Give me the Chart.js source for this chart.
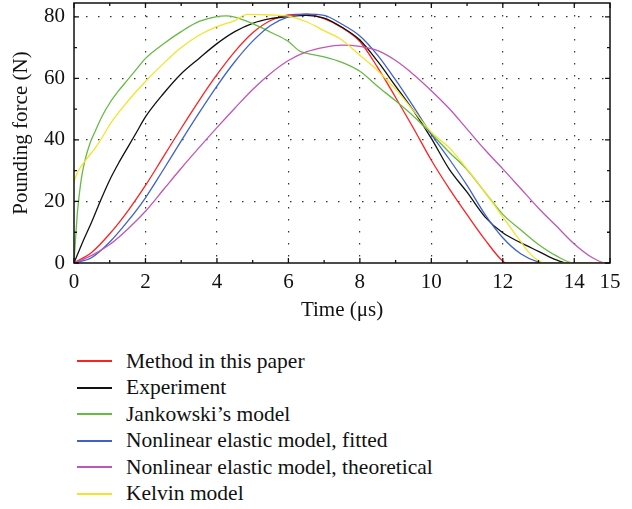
<!DOCTYPE html>
<html>
<head>
<meta charset="utf-8">
<script src="https://cdn.jsdelivr.net/npm/chart.js@4.4.1/dist/chart.umd.min.js"></script>
<style>
  body { margin: 0; background: #fff; }
  #wrap { position: relative; width: 632px; height: 509px; }
  #legend { position: absolute; left: 77px; top: 348px; font: 21.5px 'Liberation Serif', serif; color: #111; }
  .row { height: 26.5px; display: flex; align-items: center; white-space: nowrap; }
  .sw { display: inline-block; width: 35px; height: 1.6px; margin-right: 14px; }
</style>
</head>
<body>
<div id="wrap">
  <canvas id="myChart" width="632" height="330"></canvas>
  <div id="legend"></div>
</div>
<script>
const seriesNames = [
  'Method in this paper',
  'Experiment',
  'Jankowski\u2019s model',
  'Nonlinear elastic model, fitted',
  'Nonlinear elastic model, theoretical',
  'Kelvin model'
];
const seriesColors = ['#ff2020', '#111111', '#66bb44', '#3f62c8', '#c056b8', '#f2e42a'];

// time (us) and pounding force (N)
const methodT = [0, 0.5, 1, 1.5, 2, 2.5, 3, 3.5, 4, 4.5, 5, 5.5, 6, 6.5, 7, 7.5, 8, 8.5, 9, 9.5, 10, 10.5, 11, 11.5, 12, 12.1, 15];
const methodF = [0, 3.5, 9.5, 16.8, 25.2, 34.5, 43.8, 52.8, 61.2, 68.7, 74.8, 78.8, 80.6, 80.9, 79.4, 76.5, 72, 63.5, 53.8, 43.8, 33.4, 24.2, 15.7, 7.6, 0.6, 0, 0];

const expT = [0, 0.25, 0.5, 0.75, 1, 1.25, 1.5, 1.75, 2, 2.5, 3, 3.5, 4, 4.5, 5, 5.5, 6, 6.5, 7, 7.5, 8, 8.5, 9, 9.5, 10, 10.5, 11, 11.5, 12, 12.5, 13, 13.5, 13.8, 15];
const expF = [0, 7, 13.5, 20.5, 27, 32.5, 37.5, 42.5, 47.5, 55, 61.5, 66.5, 71.3, 75.2, 77.9, 79.4, 80.1, 80.5, 79.6, 76.6, 72.5, 65.5, 57.5, 49.5, 40.5, 30.5, 23, 15, 9.8, 6.6, 3.8, 1, 0, 0];

const jankT = [0, 0.05, 0.1, 0.2, 0.3, 0.45, 0.6, 0.8, 1, 1.25, 1.5, 1.75, 2, 2.5, 3, 3.5, 4, 4.25, 4.5, 5, 5.5, 6, 6.3, 6.5, 7, 7.5, 8, 8.5, 9, 9.5, 10, 10.5, 11, 11.5, 12, 12.5, 13, 13.5, 14, 15];
const jankF = [0, 9, 17, 27, 33, 39, 43, 48, 52, 56, 59.5, 63, 66.5, 71.2, 75.2, 78.5, 80.1, 80.3, 79.9, 77.8, 75, 72, 69, 68.2, 67, 65.2, 62.3, 57.4, 52.7, 47.7, 42, 36, 30.3, 23, 15.8, 10.8, 6, 2.3, 0, 0];

const fittedT = [0, 0.5, 1, 1.5, 2, 2.5, 3, 3.5, 4, 4.5, 5, 5.5, 6, 6.5, 7, 7.5, 8, 8.5, 9, 9.5, 10, 10.5, 11, 11.5, 12, 12.5, 13, 13.2, 15];
const fittedF = [0, 1.8, 6.8, 13.5, 21.2, 30.3, 39.7, 48.8, 57.5, 65.4, 72.1, 77.2, 80, 80.9, 80.5, 77.6, 73.8, 67.5, 59.5, 50.8, 41.8, 33.8, 25.2, 15.8, 8.2, 3, 0.3, 0, 0];

const theoT = [0, 0.5, 1, 1.5, 2, 2.5, 3, 3.5, 4, 4.5, 5, 5.5, 6, 6.5, 7, 7.5, 8, 8.5, 9, 9.5, 10, 10.5, 11, 11.5, 12, 12.5, 13, 13.5, 14, 14.5, 14.9, 15];
const theoF = [0, 2.5, 6, 11, 16.8, 23.8, 30.8, 37.5, 44, 50.3, 56.4, 61.6, 65.8, 68.6, 70.1, 70.8, 70.4, 69, 65.8, 61.3, 56, 50.2, 43.5, 36.8, 30.6, 24.2, 17.8, 12, 6.2, 1.8, 0, 0];

const kelvinT = [0, 0.1, 0.3, 0.6, 0.85, 1, 1.5, 2, 2.5, 3, 3.5, 4, 4.5, 4.85, 5.5, 6, 6.5, 7, 7.5, 8, 8.5, 9, 9.5, 10, 10.5, 11, 11.5, 12, 12.5, 12.75, 13, 13.2, 15];
const kelvinF = [26.5, 29.5, 33, 37.5, 42, 45, 52.5, 59, 64.8, 70, 74, 76.8, 78.8, 80.8, 80.6, 80.2, 78.4, 75.5, 72.5, 67.5, 62.5, 56.5, 49.5, 42.5, 37.5, 30.5, 23, 15, 7, 3.2, 0.7, 0, 0];

const xTicks = [0, 2, 4, 6, 8, 10, 12, 14, 15];
const xMinor = [1, 3, 5, 7, 9, 11, 13];
const yTicks = [0, 20, 40, 60, 80];
const yMinor = [10, 30, 50, 70];

const seriesT = [methodT, expT, jankT, fittedT, theoT, kelvinT];
const seriesF = [methodF, expF, jankF, fittedF, theoF, kelvinF];

const datasets = seriesNames.map((name, i) => ({
  label: name,
  data: seriesT[i].map((t, j) => ({ x: t, y: seriesF[i][j] })),
  borderColor: seriesColors[i],
  borderWidth: 1.3,
  pointRadius: 0,
  fill: false,
  cubicInterpolationMode: 'monotone',
  order: seriesNames.length - i
}));

// frame plus inward tick marks on all four sides
const framePlugin = {
  id: 'frame',
  afterDraw(chart) {
    const { ctx, chartArea: a, scales } = chart;
    const xs = scales.x, ys = scales.y;
    ctx.save();
    ctx.strokeStyle = '#111';
    ctx.lineWidth = 1.3;
    ctx.beginPath();
    const mark = (vals, len) => {
      vals.forEach(v => {
        const px = xs.getPixelForValue(v);
        ctx.moveTo(px, a.bottom); ctx.lineTo(px, a.bottom - len);
        ctx.moveTo(px, a.top); ctx.lineTo(px, a.top + len);
      });
    };
    const markY = (vals, len) => {
      vals.forEach(v => {
        const py = ys.getPixelForValue(v);
        ctx.moveTo(a.left, py); ctx.lineTo(a.left + len, py);
        ctx.moveTo(a.right, py); ctx.lineTo(a.right - len, py);
      });
    };
    mark(xTicks, 5);
    mark(xMinor, 3);
    markY(yTicks, 5);
    markY(yMinor, 3);
    ctx.stroke();
    ctx.lineWidth = 1.5;
    ctx.strokeRect(a.left, a.top, a.right - a.left, a.bottom - a.top);
    ctx.restore();
  }
};

Chart.defaults.font.family = "'Liberation Serif', serif";
Chart.defaults.font.size = 21;
Chart.defaults.color = '#111';

const xGrid = c => (c.tick && c.tick.value > 0 && c.tick.value < 15) ? '#333' : 'rgba(0,0,0,0)';
const yGrid = c => (c.tick && c.tick.value > 0) ? '#333' : 'rgba(0,0,0,0)';

const config = {
  type: 'line',
  data: { datasets: datasets },
  options: {
    responsive: false,
    animation: false,
    layout: { padding: { top: 3, right: 22, left: 0, bottom: 0 } },
    plugins: { legend: { display: false }, tooltip: { enabled: false } },
    scales: {
      x: {
        type: 'linear',
        min: 0,
        max: 15,
        afterBuildTicks: s => { s.ticks = xTicks.map(v => ({ value: v })); },
        afterFit: s => { s.height = 67; s.paddingLeft = 0; s.paddingRight = 0; },
        grid: { color: xGrid, drawTicks: false, lineWidth: 1.2 },
        border: { display: false, dash: [1.5, 10.5] },
        ticks: { padding: 7, maxRotation: 0, autoSkip: false },
        title: { display: true, text: 'Time (\u03bcs)', padding: { bottom: 7 }, font: { size: 21, lineHeight: 1.2 } }
      },
      y: {
        min: 0,
        max: 84.5,
        afterBuildTicks: s => { s.ticks = yTicks.map(v => ({ value: v })); },
        afterFit: s => { s.width = 74; s.paddingTop = 0; s.paddingBottom = 0; },
        grid: { color: yGrid, drawTicks: false, lineWidth: 1.2 },
        border: { display: false, dash: [1.5, 10.5] },
        ticks: { padding: 9 },
        title: { display: true, text: 'Pounding force (N)', padding: { top: 9 }, font: { size: 21, lineHeight: 1.2 } }
      }
    }
  },
  plugins: [framePlugin]
};

var myChart = new Chart(document.getElementById('myChart'), config);

// legend below the chart, one row per series
const legendBox = document.getElementById('legend');
seriesNames.forEach((name, i) => {
  const row = document.createElement('div');
  row.className = 'row';
  const sw = document.createElement('span');
  sw.className = 'sw';
  sw.style.backgroundColor = seriesColors[i];
  const txt = document.createElement('span');
  txt.textContent = name;
  row.appendChild(sw);
  row.appendChild(txt);
  legendBox.appendChild(row);
});
</script>
</body>
</html>
